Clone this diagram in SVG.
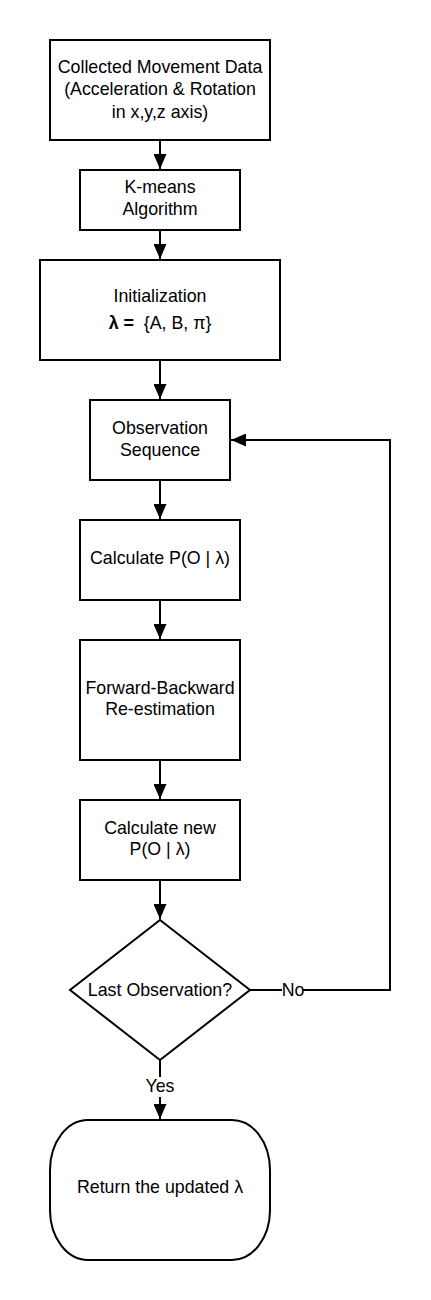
<svg xmlns="http://www.w3.org/2000/svg" width="431" height="1300" viewBox="0 0 431 1300">
<style>
.n{fill:#fff;stroke:#000;stroke-width:2}
.t{font-family:"Liberation Sans",Arial,sans-serif;font-size:17.8px;fill:#000;text-anchor:middle}
.e{fill:none;stroke:#000;stroke-width:2}
</style>
<defs>
<marker id="ah" markerUnits="userSpaceOnUse" markerWidth="16" markerHeight="13" refX="15" refY="6.5" orient="auto">
<path d="M0,0 L15,6.5 L0,13 Z" fill="#000"/>
</marker>
</defs>
<rect width="431" height="1300" fill="#fff"/>
<g id="connectors">
<path class="e" d="M160,140 V169" marker-end="url(#ah)"/>
<path class="e" d="M160,230 V259" marker-end="url(#ah)"/>
<path class="e" d="M160,360 V399" marker-end="url(#ah)"/>
<path class="e" d="M160,480 V519" marker-end="url(#ah)"/>
<path class="e" d="M160,600 V639" marker-end="url(#ah)"/>
<path class="e" d="M160,760 V799" marker-end="url(#ah)"/>
<path class="e" d="M160,880 V919" marker-end="url(#ah)"/>
<path class="e" d="M160,1060 V1119" marker-end="url(#ah)"/>
<path class="e" d="M250,990 H390 V440 H231" marker-end="url(#ah)"/>
<rect x="282" y="980" width="21" height="20" fill="#fff"/>
<text class="t" x="293" y="996">No</text>
<rect x="145" y="1077" width="30" height="20" fill="#fff"/>
<text class="t" x="160" y="1092">Yes</text>
</g>
<g id="data">
<rect class="n" x="50" y="40" width="220" height="100"/>
<text class="t" x="160" y="72.5">Collected Movement Data</text>
<text class="t" x="160" y="95">(Acceleration &amp; Rotation</text>
<text class="t" x="160" y="117.5">in x,y,z axis)</text>
</g>
<g id="kmeans">
<rect class="n" x="80" y="170" width="160" height="60"/>
<text class="t" x="160" y="193">K-means</text>
<text class="t" x="160" y="215">Algorithm</text>
</g>
<g id="init">
<rect class="n" x="40" y="260" width="240" height="100"/>
<text class="t" x="160" y="302">Initialization</text>
<text class="t" x="160" y="329"><tspan font-weight="bold">λ =</tspan>&#160; {A, B, π}</text>
</g>
<g id="obs">
<rect class="n" x="90" y="400" width="140" height="80"/>
<text class="t" x="160" y="433.5">Observation</text>
<text class="t" x="160" y="455.5">Sequence</text>
</g>
<g id="calc">
<rect class="n" x="80" y="520" width="160" height="80"/>
<text class="t" x="160" y="564">Calculate P(O | λ)</text>
</g>
<g id="fb">
<rect class="n" x="80" y="640" width="160" height="120"/>
<text class="t" x="160" y="694">Forward-Backward</text>
<text class="t" x="160" y="715">Re-estimation</text>
</g>
<g id="calcnew">
<rect class="n" x="80" y="800" width="160" height="80"/>
<text class="t" x="160" y="833.5">Calculate new</text>
<text class="t" x="160" y="854.5">P(O | λ)</text>
</g>
<g id="last">
<path class="n" d="M160,920 L250,990 L160,1060 L70,990 Z"/>
<text class="t" x="160" y="996">Last Observation?</text>
</g>
<g id="return">
<path class="n" d="M88,1120 H232 A38,50 0 0 1 270,1170 V1210 A38,50 0 0 1 232,1260 H88 A38,50 0 0 1 50,1210 V1170 A38,50 0 0 1 88,1120 Z"/>
<text class="t" x="160" y="1193">Return the updated λ</text>
</g>
</svg>
